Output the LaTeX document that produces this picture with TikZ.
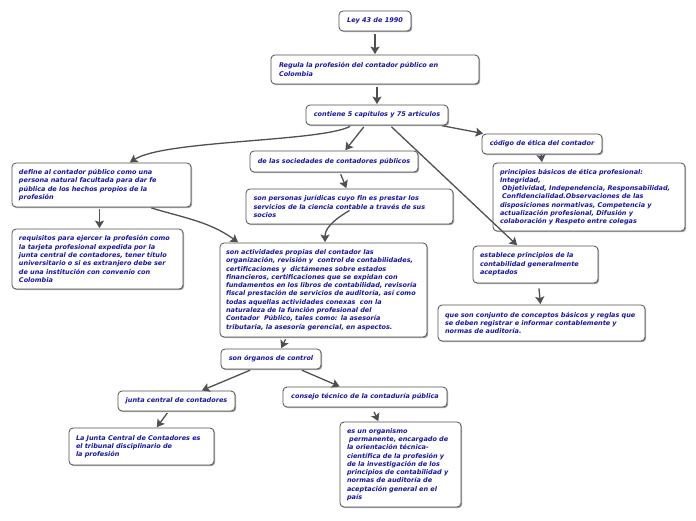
\documentclass[tikz,border=0pt]{standalone}
\usepackage{fontspec}
\setmainfont{DejaVu Sans}
\usetikzlibrary{shadows,arrows.meta,calc}
\definecolor{txt}{RGB}{22,22,160}
\definecolor{ln}{RGB}{80,80,80}
\tikzset{
  box/.style={draw=ln, line width=0.8pt, rounded corners=4pt, fill=white,
    drop shadow={shadow xshift=1.2pt, shadow yshift=-1.2pt, fill=black!45, opacity=0.8},
    font=\fontsize{6.5}{8.3}\selectfont\bfseries\itshape, text=txt, inner sep=0pt},
  cbox/.style={box, align=center},
  lbox/.style={box, align=left},
  conn/.style={draw=ln, line width=1.3pt, -{Stealth[width=9pt,length=7.5pt,inset=1.5pt]}, shorten <=2pt, shorten >=0.5pt}
}
\begin{document}
\begin{tikzpicture}[x=1pt,y=-1pt]
\useasboundingbox (0,0) rectangle (696,520);
\node[cbox, minimum width=72pt, minimum height=20pt] (a) at (375,21) {Ley 43 de 1990};
\node[lbox, minimum width=208pt, minimum height=29pt, text width=192pt] (b) at (375,69.5) {Regula la profesión del contador público en\\Colombia};
\node[cbox, minimum width=142pt, minimum height=20pt] (c) at (377,115) {contiene 5 capítulos y 75 artículos};
\node[lbox, minimum width=179pt, minimum height=44pt, text width=165pt] (d) at (101.5,185) {define al contador público como una\\persona natural facultada para dar fe\\pública de los hechos propios de la\\profesión};
\node[lbox, minimum width=171pt, minimum height=60pt, text width=157pt] (e) at (97.5,259) {requisitos para ejercer la profesión como\\la tarjeta profesional expedida por la\\junta central de contadores, tener título\\universitario o si es extranjero debe ser\\de una institución con convenio con\\Colombia};
\node[cbox, minimum width=168pt, minimum height=21pt] (f) at (334,161.5) {de las sociedades de contadores públicos};
\node[lbox, minimum width=207pt, minimum height=35pt, text width=192pt] (g) at (349.5,206.5) {son personas jurídicas cuyo fin es prestar los\\servicios de la ciencia contable a través de sus\\socios};
\node[lbox, minimum width=207pt, minimum height=94pt, text width=195pt] (h) at (323.5,290) {son actividades propias del contador las\\organización, revisión y\ \ control de contabilidades,\\certificaciones y\ \ dictámenes sobre estados\\financieros, certificaciones que se expidan con\\fundamentos en los libros de contabilidad, revisoría\\fiscal prestación de servicios de auditoría, así como\\todas aquellas actividades conexas\ \ con la\\naturaleza de la función profesional del\\Contador\ \ Público, tales como: la asesoría\\tributaria, la asesoría gerencial, en aspectos.};
\node[cbox, minimum width=120pt, minimum height=20pt] (i) at (542,144) {código de ética del contador};
\node[lbox, minimum width=192pt, minimum height=68pt, text width=178pt] (j) at (589,197) {principios básicos de ética profesional:\\Integridad,\\\ Objetividad, Independencia, Responsabilidad,\\\ Confidencialidad.Observaciones de las\\disposiciones normativas, Competencia y\\actualización profesional, Difusión y\\colaboración y Respeto entre colegas};
\node[lbox, minimum width=125pt, minimum height=37pt, text width=111pt] (k) at (535.5,264.5) {establece principios de la\\contabilidad generalmente\\aceptados};
\node[lbox, minimum width=207pt, minimum height=36pt, text width=193pt] (l) at (541.5,323) {que son conjunto de conceptos básicos y reglas que\\se deben registrar e informar contablemente y\\normas de auditoría.};
\node[cbox, minimum width=100pt, minimum height=20pt] (m) at (271,359) {son órganos de control};
\node[cbox, minimum width=117pt, minimum height=20pt] (n) at (176.5,401) {junta central de contadores};
\node[cbox, minimum width=164pt, minimum height=20pt] (o) at (365,397) {consejo técnico de la contaduría pública};
\node[lbox, minimum width=145pt, minimum height=37pt, text width=131pt] (p) at (141.5,446.5) {La Junta Central de Contadores es\\el tribunal disciplinario de\\la profesión};
\node[lbox, minimum width=121pt, minimum height=85pt, text width=107pt] (q) at (400.5,464.5) {es un organismo\\\ permanente, encargado de\\la orientación técnica-\\científica de la profesión y\\de la investigación de los\\principios de contabilidad y\\normas de auditoría de\\aceptación general en el\\país};
% connectors
\draw[conn, shorten <=3pt] (a.south) -- (b.north);
\draw[conn, shorten <=3pt] ([xshift=2pt]b.south) -- (c.north);
\draw[conn] ([xshift=-25pt]c.south) .. controls (320,142) and (165,140) .. ([xshift=28pt]d.north);
\draw[conn] ([xshift=-12pt]c.south) -- ([xshift=11pt]f.north);
\draw[conn] ([xshift=13pt]c.south) -- ([xshift=-18pt]k.north);
\draw[conn] ([xshift=-8pt]c.south east) -- ([xshift=2pt]i.north west);
\draw[conn] ([xshift=-2pt]d.south) -- ([xshift=2pt]e.north);
\draw[conn] ([xshift=48pt]d.south) .. controls (185,218) and (210,222) .. ([xshift=-85pt]h.north);
\draw[conn] ([xshift=6pt]f.south) -- ([xshift=-3pt]g.north);
\draw[conn, shorten <=0pt] ([yshift=-4pt]g.center) .. controls (330,222) and (325,230) .. ([xshift=1.5pt]h.north);
\draw[conn, shorten <=0pt] ([xshift=-1pt]i.south) -- ([xshift=-47pt]j.north);
\draw[conn, shorten <=5pt] ([xshift=3pt]k.south) -- ([xshift=-1pt]l.north);
\draw[conn] ([xshift=-37pt]h.south) -- ([xshift=10pt]m.north);
\draw[conn] ([xshift=-19pt]m.south) -- ([xshift=25pt]n.north);
\draw[conn] ([xshift=29pt]m.south) -- ([xshift=-25pt]o.north);
\draw[conn] ([xshift=-8pt]n.south) -- ([xshift=15pt]p.north);
\draw[conn, shorten <=5pt] ([xshift=7pt]o.south) -- ([xshift=-22pt]q.north);
\end{tikzpicture}
\end{document}
